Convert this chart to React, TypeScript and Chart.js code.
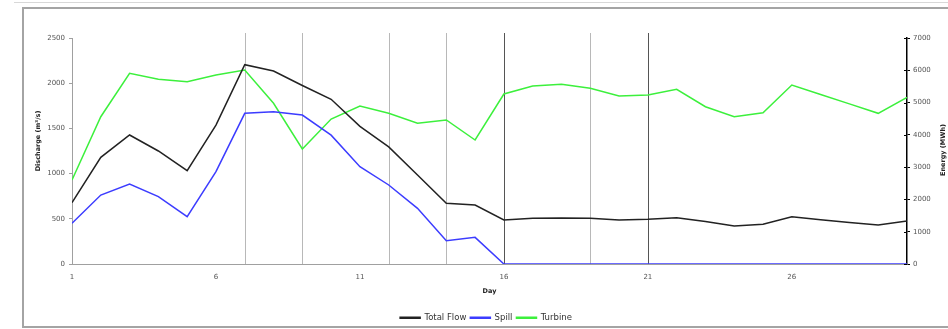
import { useEffect, useRef } from 'react';
import { Chart, registerables } from 'chart.js';

Chart.register(...registerables);

const days = [1, 2, 3, 4, 5, 6, 7, 8, 9, 10, 11, 12, 13, 14, 15, 16, 17, 18, 19, 20, 21, 22, 23, 24, 25, 26, 27, 28, 29, 30];
const totalFlow = [678, 1180, 1427, 1250, 1032, 1537, 2205, 2135, 1975, 1822, 1522, 1295, 985, 671, 652, 487, 505, 510, 505, 487, 494, 512, 470, 420, 439, 523, 490, 460, 431, 476];
const spill = [450, 763, 885, 745, 523, 1021, 1667, 1685, 1648, 1425, 1076, 874, 616, 258, 295, 0, 0, 0, 0, 0, 0, 0, 0, 0, 0, 0, 0, 0, 0, 0];
const turbine = [2600, 4562, 5906, 5720, 5646, 5853, 6008, 4977, 3562, 4491, 4893, 4667, 4357, 4460, 3840, 5265, 5513, 5565, 5441, 5203, 5234, 5410, 4872, 4562, 4686, 5544, 5250, 4960, 4667, 5161];
const xTickDays = [1, 6, 11, 16, 21, 26];
const lightMarkerDays = [7, 9, 12, 14, 19];
const darkMarkerDays = [16, 21];
const xTitle = 'Day';
const leftTitle = 'Discharge (m³/s)';
const rightTitle = 'Energy (MWh)';
const energyTicks = [0, 1000, 2000, 3000, 4000, 5000, 6000, 7000];

const FONT = '"DejaVu Sans", Verdana, sans-serif';

const overlayPlugin = {
  id: 'overlay',
  beforeDatasetsDraw(chart: any) {
    const { ctx, chartArea, scales } = chart;
    const x = scales.x;
    ctx.save();
    ctx.lineWidth = 1;
    const drawLine = (d: number, color: string) => {
      const px = Math.round(x.getPixelForValue(d)) + 0.5;
      ctx.strokeStyle = color;
      ctx.beginPath();
      ctx.moveTo(px, chartArea.top - 5);
      ctx.lineTo(px, chartArea.bottom);
      ctx.stroke();
    };
    lightMarkerDays.forEach((d) => drawLine(d, '#b8b8b8'));
    darkMarkerDays.forEach((d) => drawLine(d, '#555555'));
    ctx.restore();
  },
  afterDraw(chart: any) {
    const { ctx, chartArea, scales } = chart;
    const y1 = scales.y1;
    ctx.save();
    ctx.strokeStyle = '#000';
    ctx.lineWidth = 1;
    energyTicks.forEach((v) => {
      const py = Math.round(y1.getPixelForValue(v)) + 0.5;
      ctx.beginPath();
      ctx.moveTo(y1.left - 3, py);
      ctx.lineTo(y1.left, py);
      ctx.stroke();
    });
    ctx.fillStyle = '#222';
    ctx.font = `bold 6.5px ${FONT}`;
    ctx.textAlign = 'center';
    ctx.textBaseline = 'middle';
    ctx.save();
    ctx.translate(chartArea.left - 34, chartArea.top + 103);
    ctx.rotate(-Math.PI / 2);
    ctx.fillText(leftTitle, 0, 0);
    ctx.restore();
    ctx.save();
    ctx.translate(chartArea.right + 36, chartArea.top + 112);
    ctx.rotate(-Math.PI / 2);
    ctx.fillText(rightTitle, 0, 0);
    ctx.restore();
    ctx.restore();
  },
};

export default function App() {
  const canvasRef = useRef<HTMLCanvasElement | null>(null);

  useEffect(() => {
    if (!canvasRef.current) return;
    const toPoints = (arr: number[]) => arr.map((v, i) => ({ x: days[i], y: v }));
    const plain = (v: any) => String(v);
    const chart = new Chart(canvasRef.current, {
      type: 'line',
      data: {
        datasets: [
          {
            label: 'Total Flow',
            data: toPoints(totalFlow),
            borderColor: '#222222',
            backgroundColor: '#222222',
            borderWidth: 1.5,
            pointRadius: 0,
            yAxisID: 'y',
          },
          {
            label: 'Spill',
            data: toPoints(spill),
            borderColor: '#3c3cff',
            backgroundColor: '#3c3cff',
            borderWidth: 1.5,
            pointRadius: 0,
            yAxisID: 'y',
          },
          {
            label: 'Turbine',
            data: toPoints(turbine),
            borderColor: '#3cf03c',
            backgroundColor: '#3cf03c',
            borderWidth: 1.5,
            pointRadius: 0,
            yAxisID: 'y1',
          },
        ],
      },
      options: {
        animation: false,
        responsive: false,
        maintainAspectRatio: false,
        layout: { padding: { top: 28, left: 0, right: 0, bottom: 0 } },
        plugins: {
          legend: {
            position: 'bottom',
            labels: {
              boxWidth: 20,
              boxHeight: 1,
              padding: 4,
              color: '#333',
              font: { family: FONT, size: 8.5 },
            },
          },
          tooltip: { enabled: false },
        },
        scales: {
          x: {
            type: 'linear',
            min: 1,
            max: 30,
            afterFit: (s: any) => {
              s.height = 45.5;
            },
            afterBuildTicks: (s: any) => {
              s.ticks = xTickDays.map((v) => ({ value: v }));
            },
            ticks: {
              padding: 9,
              color: '#555',
              font: { family: FONT, size: 7 },
              maxRotation: 0,
              autoSkip: false,
              callback: plain,
            },
            grid: { display: true, drawOnChartArea: false, drawTicks: false },
            border: { color: '#a0a0a0', width: 1 },
            title: {
              display: true,
              text: xTitle,
              color: '#222',
              font: { family: FONT, size: 6.5, weight: 'bold' },
              padding: { top: 0, bottom: 14 },
            },
          },
          y: {
            position: 'left',
            min: 0,
            max: 2500,
            afterFit: (s: any) => {
              s.width = 48;
            },
            ticks: {
              stepSize: 500,
              padding: 4,
              color: '#555',
              font: { family: FONT, size: 7 },
              callback: plain,
            },
            grid: { drawOnChartArea: false, tickLength: 3, color: '#a0a0a0' },
            border: { color: '#a0a0a0', width: 1 },
          },
          y1: {
            position: 'right',
            min: 0,
            max: 7000,
            afterFit: (s: any) => {
              s.width = 41;
            },
            ticks: {
              stepSize: 1000,
              padding: 3,
              color: '#555',
              font: { family: FONT, size: 7 },
              callback: plain,
            },
            grid: { drawOnChartArea: false, tickLength: 3, color: '#000' },
            border: { color: '#000', width: 1.5 },
          },
        },
      },
      plugins: [overlayPlugin],
    } as any);
    return () => chart.destroy();
  }, []);

  return (
    <div
      style={{
        position: 'fixed',
        left: 0,
        top: 0,
        width: 948,
        height: 329,
        overflow: 'hidden',
        background: '#fff',
      }}
    >
      <div
        style={{
          position: 'absolute',
          left: 14,
          top: 2,
          width: 1000,
          height: 0,
          borderTop: '1px solid #d8d8d8',
        }}
      />
      <div
        style={{
          position: 'absolute',
          left: 22,
          top: 7,
          width: 1000,
          height: 317,
          border: '2px solid #a4a4a4',
        }}
      />
      <canvas
        ref={canvasRef}
        width={924}
        height={322}
        style={{ position: 'absolute', left: 24, top: 10, width: 924, height: 322 }}
      />
    </div>
  );
}
